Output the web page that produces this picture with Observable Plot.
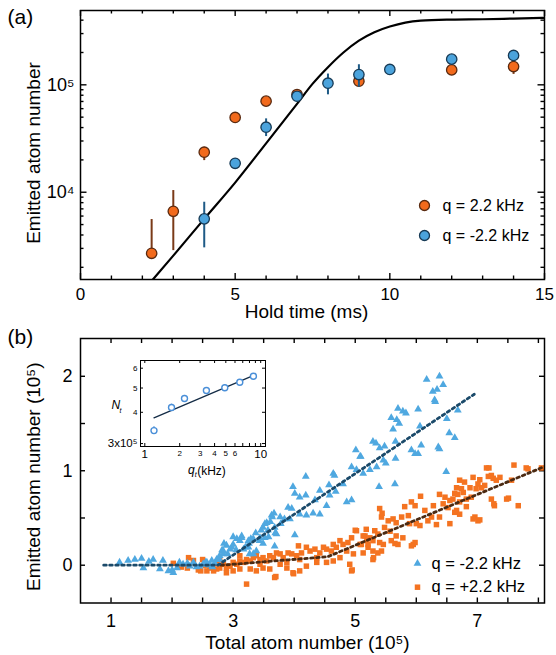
<!DOCTYPE html>
<html><head><meta charset="utf-8">
<script src="https://cdn.jsdelivr.net/npm/d3@7"></script>
<script src="https://cdn.jsdelivr.net/npm/@observablehq/plot@0.6"></script>
<style>
body{margin:0;background:#fff}
#fig{position:relative;width:556px;height:655px;background:#fff;overflow:hidden}
#fig svg{position:absolute;left:0;overflow:visible}
</style></head><body><div id="fig"></div>
<script>
// ---------- Panel (a) data ----------
const orangeTime = [2.3, 3, 4, 5, 6, 7, 9, 12, 14];
const orangeCount = [2700, 6650, 23600, 49700, 70500, 81300, 108000, 137700, 148000];
const orangeLow = [2700, 2860, 19700, 46000, 66000, 76000, 95000, 122000, 125000];
const orangeHigh = [5570, 10370, 26200, 53000, 75000, 86000, 122000, 146000, 157000];
const blueTime = [4, 5, 6, 7, 8, 9, 10, 12, 14];
const blueCount = [5650, 18600, 40300, 78300, 103500, 124700, 139000, 173400, 187700];
const blueLow = [3035, 17000, 33000, 72000, 80700, 95000, 128000, 157000, 171000];
const blueHigh = [8070, 20300, 48200, 85000, 126000, 153800, 151000, 187000, 200000];
const curveTime = [2.34, 3, 4, 5, 6, 7, 7.5, 8, 8.5, 9, 9.5, 10, 10.5, 11, 12, 13, 14, 15];
const curveCount = [1540, 2570, 5650, 12300, 28500, 66500, 102000, 146000, 200000, 258000, 309000, 349000, 380000, 396000, 405000, 408000, 414000, 421000];
const legendA = ["q = 2.2 kHz", "q = -2.2 kHz"];
const xTickLabelsA = [0, 5, 10, 15];
const yTickLabelsA = [1e4, 1e5];
const xMinorA = [1,2,3,4,6,7,8,9,11,12,13,14];
const yMinorA = [2e3,3e3,4e3,5e3,6e3,7e3,8e3,9e3,2e4,3e4,4e4,5e4,6e4,7e4,8e4,9e4,2e5,3e5,4e5];

// ---------- Panel (b) data ----------
const blueTriangles = [
[1.14,0.03],[1.28,0.05],[1.39,0.06],[1.50,0.07],[1.53,-0.03],[1.62,0.04],[1.69,0.06],[1.80,-0.04],[1.85,0.05],[1.94,-0.06],[2.00,-0.05],[2.02,-0.08],[2.08,-0.03],[2.12,0.03],[2.18,0.01],[2.25,0.02],[2.29,-0.01],[2.35,0.03],[2.40,-0.02],[2.45,-0.01],[2.51,0.01],[2.55,0.03],[2.62,0.00],[2.66,-0.02],[2.70,0.02],[2.78,0.06],[2.84,0.12],[2.98,0.19],
[5.01,1.22],[5.08,1.15],[4.94,1.04],[5.02,1.01],[5.13,0.97],[4.19,0.94],[4.64,0.97],[3.98,0.83],[4.01,0.76],[4.09,0.72],[4.19,0.74],[4.42,0.79],[4.58,0.74],[4.34,0.69],[3.90,0.61],[3.96,0.60],[3.77,0.51],[3.93,0.49],[4.09,0.54],[4.20,0.53],[4.31,0.55],[4.42,0.54],[4.53,0.63],[4.86,0.67],[4.94,0.69],[3.63,0.53],[3.55,0.45],[3.49,0.40],[3.68,0.40],[3.71,0.33],[4.01,0.32],[3.52,0.29],[3.57,0.37],[3.44,0.29],[3.33,0.28],[3.25,0.26],[3.14,0.29],[3.06,0.28],[3.00,0.22],[2.95,0.17],[3.17,0.17],[3.25,0.19],[3.38,0.15],[3.68,0.20],[2.89,0.21],[2.84,0.15],[2.78,0.10],[2.73,0.06],[2.65,0.05],[2.57,0.03],[2.51,0.01],[3.27,0.12],
[2.91,0.12],[3.05,0.16],[3.20,0.19],[3.33,0.12],[3.49,0.23],[3.58,0.30],[3.69,0.34],[3.78,0.44],[3.84,0.49],[3.52,0.44],[3.61,0.46],[3.64,0.51],[3.67,0.55],[3.37,0.34],[3.43,0.26],[3.46,0.37],[3.14,0.31],[3.00,0.30],[2.85,0.23],[2.82,0.16],[3.11,0.26],[3.26,0.23],[3.29,0.28],
[4.66,0.95],[4.68,0.78],[4.80,0.86],[4.57,0.85],
[6.17,1.965],[6.38,2.00],[6.44,1.91],[6.27,1.84],[6.34,1.86],[6.30,1.75],[6.31,1.73],[5.70,1.66],[5.78,1.63],[5.83,1.61],[6.03,1.65],[6.68,1.64],[5.59,1.56],[5.68,1.54],[5.72,1.50],[5.62,1.44],[6.50,1.55],[6.06,1.47],[6.54,1.40],[6.63,1.35],[5.29,1.31],[5.34,1.29],[5.48,1.26],[5.40,1.24],[5.66,1.31],[5.92,1.22],[5.98,1.18],[6.03,1.18],[6.36,1.25],[6.38,1.23],[6.08,1.27],[5.09,1.15],[5.46,1.11],[5.50,1.08],[5.66,1.13],[5.24,1.01],[5.35,1.04],[6.49,0.99],[5.39,0.83],[5.65,0.86]
];
const orangeSquares = [
[7.15,1.03],[7.60,1.06],[7.80,1.03],[8.05,1.03],[6.93,0.93],[7.04,0.905],[7.18,0.94],[6.71,0.90],[6.79,0.88],[7.23,0.95],[7.37,0.93],[7.01,0.86],[7.12,0.845],[7.26,0.92],[7.31,0.90],[7.56,0.90],[6.66,0.82],[6.74,0.81],[6.88,0.82],[6.98,0.81],[7.07,0.82],[6.63,0.76],[6.68,0.75],[6.77,0.77],[6.38,0.75],[6.47,0.72],[6.55,0.685],[6.60,0.70],[6.71,0.67],[6.82,0.70],[6.90,0.72],[6.07,0.73],[6.28,0.63],[6.44,0.65],[6.52,0.61],[6.66,0.58],[6.71,0.54],[6.82,0.62],[6.96,0.51],[7.01,0.47],[7.23,0.70],[7.28,0.63],[7.48,0.70],[7.67,0.63],[5.81,0.62],[5.92,0.67],[5.98,0.63],[6.14,0.58],[6.25,0.51],[6.38,0.51],[6.55,0.44],[6.63,0.56],[5.40,0.60],[5.43,0.51],[5.54,0.47],[5.62,0.49],[5.67,0.45],[5.76,0.51],[5.87,0.525],[5.89,0.44],[6.00,0.44],[6.06,0.42],[6.19,0.47],[6.33,0.43],[5.18,0.38],[5.32,0.365],[5.37,0.33],[5.48,0.40],[5.57,0.36],[5.67,0.31],[5.78,0.29],[5.95,0.22],[5.98,0.24],[5.16,0.31],[5.24,0.29],[5.29,0.26],[5.40,0.24],[5.46,0.22],[5.59,0.26],[5.65,0.23],[5.70,0.22],[5.21,0.19],[5.29,0.15],[5.37,0.13],[5.43,0.15],[5.10,0.22],[5.13,0.13],[5.29,0.06],[5.92,0.205],
[7.51,0.71],[7.27,0.65],[7.04,0.48],[6.93,0.49],[7.83,1.02],[7.19,1.03],[5.44,0.55],[5.00,0.37],[5.30,0.08],[4.95,-0.05],[3.99,-0.09],[3.70,-0.12],
[5.02,0.365],[5.13,0.31],[5.19,0.26],[5.21,0.22],[4.94,0.29],[4.88,0.24],[4.80,0.22],[4.75,0.26],[4.69,0.19],[4.64,0.22],[4.61,0.15],[4.53,0.17],[4.48,0.19],[4.42,0.13],[4.34,0.17],[4.26,0.15],[4.20,0.19],[4.12,0.13],[4.07,0.205],[4.04,0.10],[3.96,0.12],[3.90,0.13],[3.82,0.08],[3.77,0.12],[3.71,0.13],[3.66,0.08],[3.60,0.10],[3.55,0.045],[3.49,0.08],[3.44,0.06],[3.38,0.10],[3.33,0.08],[3.28,0.045],[3.22,0.06],[3.17,0.03],[3.11,0.045],[3.06,0.01],[3.00,0.03],[2.95,-0.01],[2.89,-0.03],[2.84,0.01],[2.78,-0.03],[2.73,-0.04],[2.68,-0.06],[2.62,-0.03],[2.57,-0.06],[4.97,0.12],[4.91,0.01],[4.94,-0.06],[4.53,0.03],[4.64,0.045],[4.37,0.03],[4.20,-0.01],[4.09,-0.06],[3.98,-0.08],[3.88,-0.03],[3.77,0.01],[3.68,-0.13],[3.60,-0.04],[3.49,-0.03],[3.38,-0.06],[3.28,-0.04],[3.22,-0.20],[3.11,-0.04],[3.00,-0.06],[2.89,-0.08],[4.37,0.08],[4.75,0.08],[4.86,0.15],[5.08,0.22],[4.09,0.06],[3.88,0.03],[3.44,0.01],[3.11,0.10],[2.78,0.06],
[2.02,0.02],[2.15,-0.02],[2.27,0.08],[2.25,-0.03],[2.35,0.05],[2.43,-0.05],[2.47,-0.06],[2.50,0.06],[2.55,0.00],[2.73,0.02]
];
const blueFitTotal = [0.88, 2.75, 6.95];
const blueFitEmitted = [0, 0, 1.81];
const orangeFitTotal = [2.8, 4.55, 8.1];
const orangeFitEmitted = [0, 0.09, 1.045];
const legendB = ["q = -2.2 kHz", "q = +2.2 kHz"];
const xTickLabelsB = [1, 3, 5, 7];
const yTickLabelsB = [0, 1, 2];
const xTicksB = [1,1.5,2,2.5,3,3.5,4,4.5,5,5.5,6,6.5,7,7.5,8];
const yTicksB = [0,0.5,1,1.5,2];

// ---------- Inset data ----------
const insetQ = [1.2, 1.7, 2.2, 3.4, 4.9, 6.6, 8.65];
const insetN = [3.38, 4.18, 4.54, 4.89, 5.01, 5.27, 5.57];
const insetErr = [0.12, 0.13, 0.13, 0.12, 0.15, 0.13, 0.13];
const insetFitQ = [1.2, 8.7];
const insetFitN = [3.8, 5.62];
const insetXBig = [1, 10];
const insetXSmall = [2, 3, 4, 5, 6];
const insetXTicks = [1,2,3,4,5,6,7,8,9,10];
const insetYSmall = [4, 5, 6];
const insetYBig = [3];
const insetYTicks = [3, 4, 5, 6];

// ---------- helpers ----------
const FONT = "'Liberation Sans', Arial, Helvetica, sans-serif";
// a position `len` pixels inside each edge of a [lo, hi] domain spanning `px` pixels
function inside(lo, hi, len, px, log) {
  const f = len / px;
  return log ? [lo * Math.pow(hi / lo, f), hi / Math.pow(hi / lo, f)] : [lo + (hi - lo) * f, hi - (hi - lo) * f];
}
// inward ticks on bottom and top edges
function xTicks(values, len, yDom, frameH, log, sw = 1.4) {
  const [y0, y1] = yDom;
  const [inB, inT] = inside(y0, y1, len, frameH, log);
  return [
    Plot.ruleX(values, {x: d => d, y1: () => y0, y2: () => inB, stroke: "black", strokeWidth: sw}),
    Plot.ruleX(values, {x: d => d, y1: () => inT, y2: () => y1, stroke: "black", strokeWidth: sw})
  ];
}
// inward ticks on left and right edges
function yTicks(values, len, xDom, frameW, log, sw = 1.4) {
  const [x0, x1] = xDom;
  const [inL, inR] = inside(x0, x1, len, frameW, log);
  return [
    Plot.ruleY(values, {y: d => d, x1: () => x0, x2: () => inL, stroke: "black", strokeWidth: sw}),
    Plot.ruleY(values, {y: d => d, x1: () => inR, x2: () => x1, stroke: "black", strokeWidth: sw})
  ];
}
const style = {fontFamily: FONT, fontSize: "17px", color: "black", background: "transparent", overflow: "visible"};

const OR_FILL = "#f26a1c", OR_STROKE = "#5a2a10", OR_BAR = "#7a3a18";
const BL_FILL = "#4ba3dc", BL_STROKE = "#173a55", BL_BAR = "#1e5a86";

const orangeA = orangeTime.map((t, i) => ({t, n: orangeCount[i], lo: orangeLow[i], hi: orangeHigh[i]}));
const blueA = blueTime.map((t, i) => ({t, n: blueCount[i], lo: blueLow[i], hi: blueHigh[i]}));
const curveA = curveTime.map((t, i) => ({t, n: curveCount[i]}));

// ---------- Panel (a) ----------
const FA_W = 464, FA_H = 269;
const XA = [0, 15], YA = [1540, 492000];
const plotA = Plot.plot({
  width: 556, height: 330,
  marginLeft: 80, marginRight: 12, marginTop: 10, marginBottom: 51,
  x: {domain: XA},
  y: {type: "log", domain: YA},
  style,
  marks: [
    Plot.axisX(xTickLabelsA, {tickSize: 0, tickPadding: 8, fontSize: 17, label: null, tickFormat: d => String(d)}),
    Plot.axisY(yTickLabelsA, {tickSize: 0, tickPadding: 6, fontSize: 18, label: null, tickFormat: d => d === 1e4 ? "10\u2074" : "10\u2075"}),
    ...xTicks(xMinorA, 3.5, YA, FA_H, true), ...xTicks(xTickLabelsA, 6, YA, FA_H, true),
    ...yTicks(yMinorA, 3.5, XA, FA_W, false), ...yTicks(yTickLabelsA, 6.5, XA, FA_W, false),
    Plot.line(curveA, {x: "t", y: "n", stroke: "black", strokeWidth: 2.2, curve: "monotone-x", clip: true}),
    Plot.ruleX(orangeA, {x: "t", y1: "lo", y2: "hi", stroke: OR_BAR, strokeWidth: 2}),
    Plot.dot(orangeA, {x: "t", y: "n", r: 5.2, fill: OR_FILL, stroke: OR_STROKE, strokeWidth: 1.3}),
    Plot.ruleX(blueA, {x: "t", y1: "lo", y2: "hi", stroke: BL_BAR, strokeWidth: 2}),
    Plot.dot(blueA, {x: "t", y: "n", r: 5.2, fill: BL_FILL, stroke: BL_STROKE, strokeWidth: 1.3}),
    Plot.frame({stroke: "black", strokeWidth: 1.5}),
    Plot.dot([legendA[0]], {frameAnchor: "top-left", dx: 344, dy: 195, r: 5, fill: OR_FILL, stroke: OR_STROKE, strokeWidth: 1.3}),
    Plot.dot([legendA[1]], {frameAnchor: "top-left", dx: 344, dy: 225, r: 5, fill: BL_FILL, stroke: BL_STROKE, strokeWidth: 1.3}),
    Plot.text([legendA[0]], {text: d => d, frameAnchor: "top-left", dx: 362, dy: 195, textAnchor: "start", lineAnchor: "middle", fontSize: 16}),
    Plot.text([legendA[1]], {text: d => d, frameAnchor: "top-left", dx: 362, dy: 225, textAnchor: "start", lineAnchor: "middle", fontSize: 16}),
    Plot.text(["(a)"], {text: d => d, frameAnchor: "top-left", dx: -73, dy: 7, textAnchor: "start", lineAnchor: "middle", fontSize: 21}),
    Plot.text(["Hold time (ms)"], {text: d => d, frameAnchor: "bottom", dx: -6, dy: 32, textAnchor: "middle", lineAnchor: "middle", fontSize: 19}),
    Plot.text(["Emitted atom number"], {text: d => d, frameAnchor: "left", dx: -47, dy: 8, rotate: -90, textAnchor: "middle", lineAnchor: "middle", fontSize: 19})
  ]
});
plotA.style.top = "0px";

// ---------- Panel (b) ----------
const FB_W = 464, FB_H = 264.5;
const XB = [0.5, 8.1], YB = [-0.4, 2.4];
const blueB = blueTriangles.map(([x, y]) => ({x, y}));
const orangeB = orangeSquares.map(([x, y]) => ({x, y}));
const blueFit = blueFitTotal.map((x, i) => ({x, y: blueFitEmitted[i]}));
const orangeFit = orangeFitTotal.map((x, i) => ({x, y: orangeFitEmitted[i]}));

const plotB = Plot.plot({
  width: 556, height: 335,
  marginLeft: 80, marginRight: 12, marginTop: 18, marginBottom: 52.5,
  x: {domain: XB},
  y: {domain: YB},
  style,
  marks: [
    Plot.axisX(xTickLabelsB, {tickSize: 0, tickPadding: 11, fontSize: 18, label: null, tickFormat: d => String(d)}),
    Plot.axisY(yTickLabelsB, {tickSize: 0, tickPadding: 8, fontSize: 18, label: null, tickFormat: d => String(d)}),
    ...xTicks(xTicksB, 5, YB, FB_H, false), ...yTicks(yTicksB, 5, XB, FB_W, false),
    Plot.dot(orangeB, {x: "x", y: "y", symbol: "square", r: 3.1, fill: "#f47321", stroke: "none"}),
    Plot.dot(blueB, {x: "x", y: "y", symbol: "triangle", r: 2.9, fill: "#4fa8e0", stroke: "none"}),
    Plot.line(orangeFit, {x: "x", y: "y", stroke: "#4b2a12", strokeWidth: 2.8, strokeDasharray: "2.6,3.4"}),
    Plot.line(blueFit, {x: "x", y: "y", stroke: "#1b4a6a", strokeWidth: 2.8, strokeDasharray: "2.6,3.4"}),
    Plot.frame({stroke: "black", strokeWidth: 1.5}),
    Plot.dot([legendB[0]], {frameAnchor: "top-left", dx: 337, dy: 225, symbol: "triangle", r: 2.9, fill: "#4fa8e0"}),
    Plot.dot([legendB[1]], {frameAnchor: "top-left", dx: 337, dy: 248.7, symbol: "square", r: 3.1, fill: "#f47321"}),
    Plot.text([legendB[0]], {text: d => d, frameAnchor: "top-left", dx: 351, dy: 225, textAnchor: "start", lineAnchor: "middle", fontSize: 16.5}),
    Plot.text([legendB[1]], {text: d => d, frameAnchor: "top-left", dx: 351, dy: 248.7, textAnchor: "start", lineAnchor: "middle", fontSize: 16.5}),
    Plot.text(["(b)"], {text: d => d, frameAnchor: "top-left", dx: -73, dy: -1, textAnchor: "start", lineAnchor: "middle", fontSize: 21}),
    Plot.text(["Total atom number (10\u2075)"], {text: d => d, frameAnchor: "bottom", dx: -5, dy: 40, textAnchor: "middle", lineAnchor: "middle", fontSize: 19}),
    Plot.text(["Emitted atom number (10\u2075)"], {text: d => d, frameAnchor: "left", dx: -47, dy: 6, rotate: -90, textAnchor: "middle", lineAnchor: "middle", fontSize: 19})
  ]
});
plotB.style.top = "320px";

// ---------- Inset ----------
const FC_W = 125, FC_H = 86;
const XC = [0.918, 11.0], YC = [2.92, 6.44];
const insetData = insetQ.map((q, i) => ({q, n: insetN[i], lo: insetN[i] - insetErr[i], hi: insetN[i] + insetErr[i]}));
const insetFit = insetFitQ.map((q, i) => ({q, n: insetFitN[i]}));
const IN_BLUE = "#4a8fd8";
const plotC = Plot.plot({
  width: 185, height: 135,
  marginLeft: 50, marginRight: 10, marginTop: 15, marginBottom: 34,
  x: {type: "log", domain: XC, axis: null},
  y: {type: "log", domain: YC, axis: null},
  style: {...style, fontSize: "11px"},
  marks: [
    Plot.frame({fill: "white", stroke: "none"}),
    Plot.text(insetXBig, {x: d => d, text: d => String(d), frameAnchor: "bottom", dy: 8, lineAnchor: "middle", fontSize: 11.5}),
    Plot.text(insetXSmall, {x: d => d, text: d => String(d), frameAnchor: "bottom", dy: 7, lineAnchor: "middle", fontSize: 8}),
    Plot.text(insetYSmall, {y: d => d, text: d => String(d), frameAnchor: "left", dx: -3, textAnchor: "end", lineAnchor: "middle", fontSize: 8}),
    Plot.text(insetYBig, {y: d => d, text: d => d + "x10\u2075", frameAnchor: "left", dx: -3, textAnchor: "end", lineAnchor: "middle", fontSize: 11.5}),
    ...xTicks(insetXTicks, 3, YC, FC_H, true, 1), ...yTicks(insetYTicks, 3, XC, FC_W, true, 1),
    Plot.line(insetFit, {x: "q", y: "n", stroke: "#142c46", strokeWidth: 1.3}),
    Plot.ruleX(insetData, {x: "q", y1: "lo", y2: "hi", stroke: IN_BLUE, strokeWidth: 1.3}),
    Plot.dot(insetData, {x: "q", y: "n", r: 3, fill: "white", stroke: IN_BLUE, strokeWidth: 1.4}),
    Plot.frame({stroke: "black", strokeWidth: 1}),
    Plot.text(["N"], {text: d => d, frameAnchor: "left", dx: -29, dy: 2, textAnchor: "start", lineAnchor: "middle", fontSize: 12, fontStyle: "italic"}),
    Plot.text(["t"], {text: d => d, frameAnchor: "left", dx: -21, dy: 7, textAnchor: "start", lineAnchor: "middle", fontSize: 7, fontStyle: "italic"}),
    Plot.text(["q"], {text: d => d, frameAnchor: "bottom", dx: -15, dy: 24, textAnchor: "start", lineAnchor: "middle", fontSize: 12, fontStyle: "italic"}),
    Plot.text(["t"], {text: d => d, frameAnchor: "bottom", dx: -8.3, dy: 28, textAnchor: "start", lineAnchor: "middle", fontSize: 7, fontStyle: "italic"}),
    Plot.text(["(kHz)"], {text: d => d, frameAnchor: "bottom", dx: -5.8, dy: 25, textAnchor: "start", lineAnchor: "middle", fontSize: 12})
  ]
});
plotC.style.top = "345px";
plotC.style.left = "90px";

const fig = document.getElementById("fig");
fig.appendChild(plotA);
fig.appendChild(plotB);
fig.appendChild(plotC);
</script></body></html>
